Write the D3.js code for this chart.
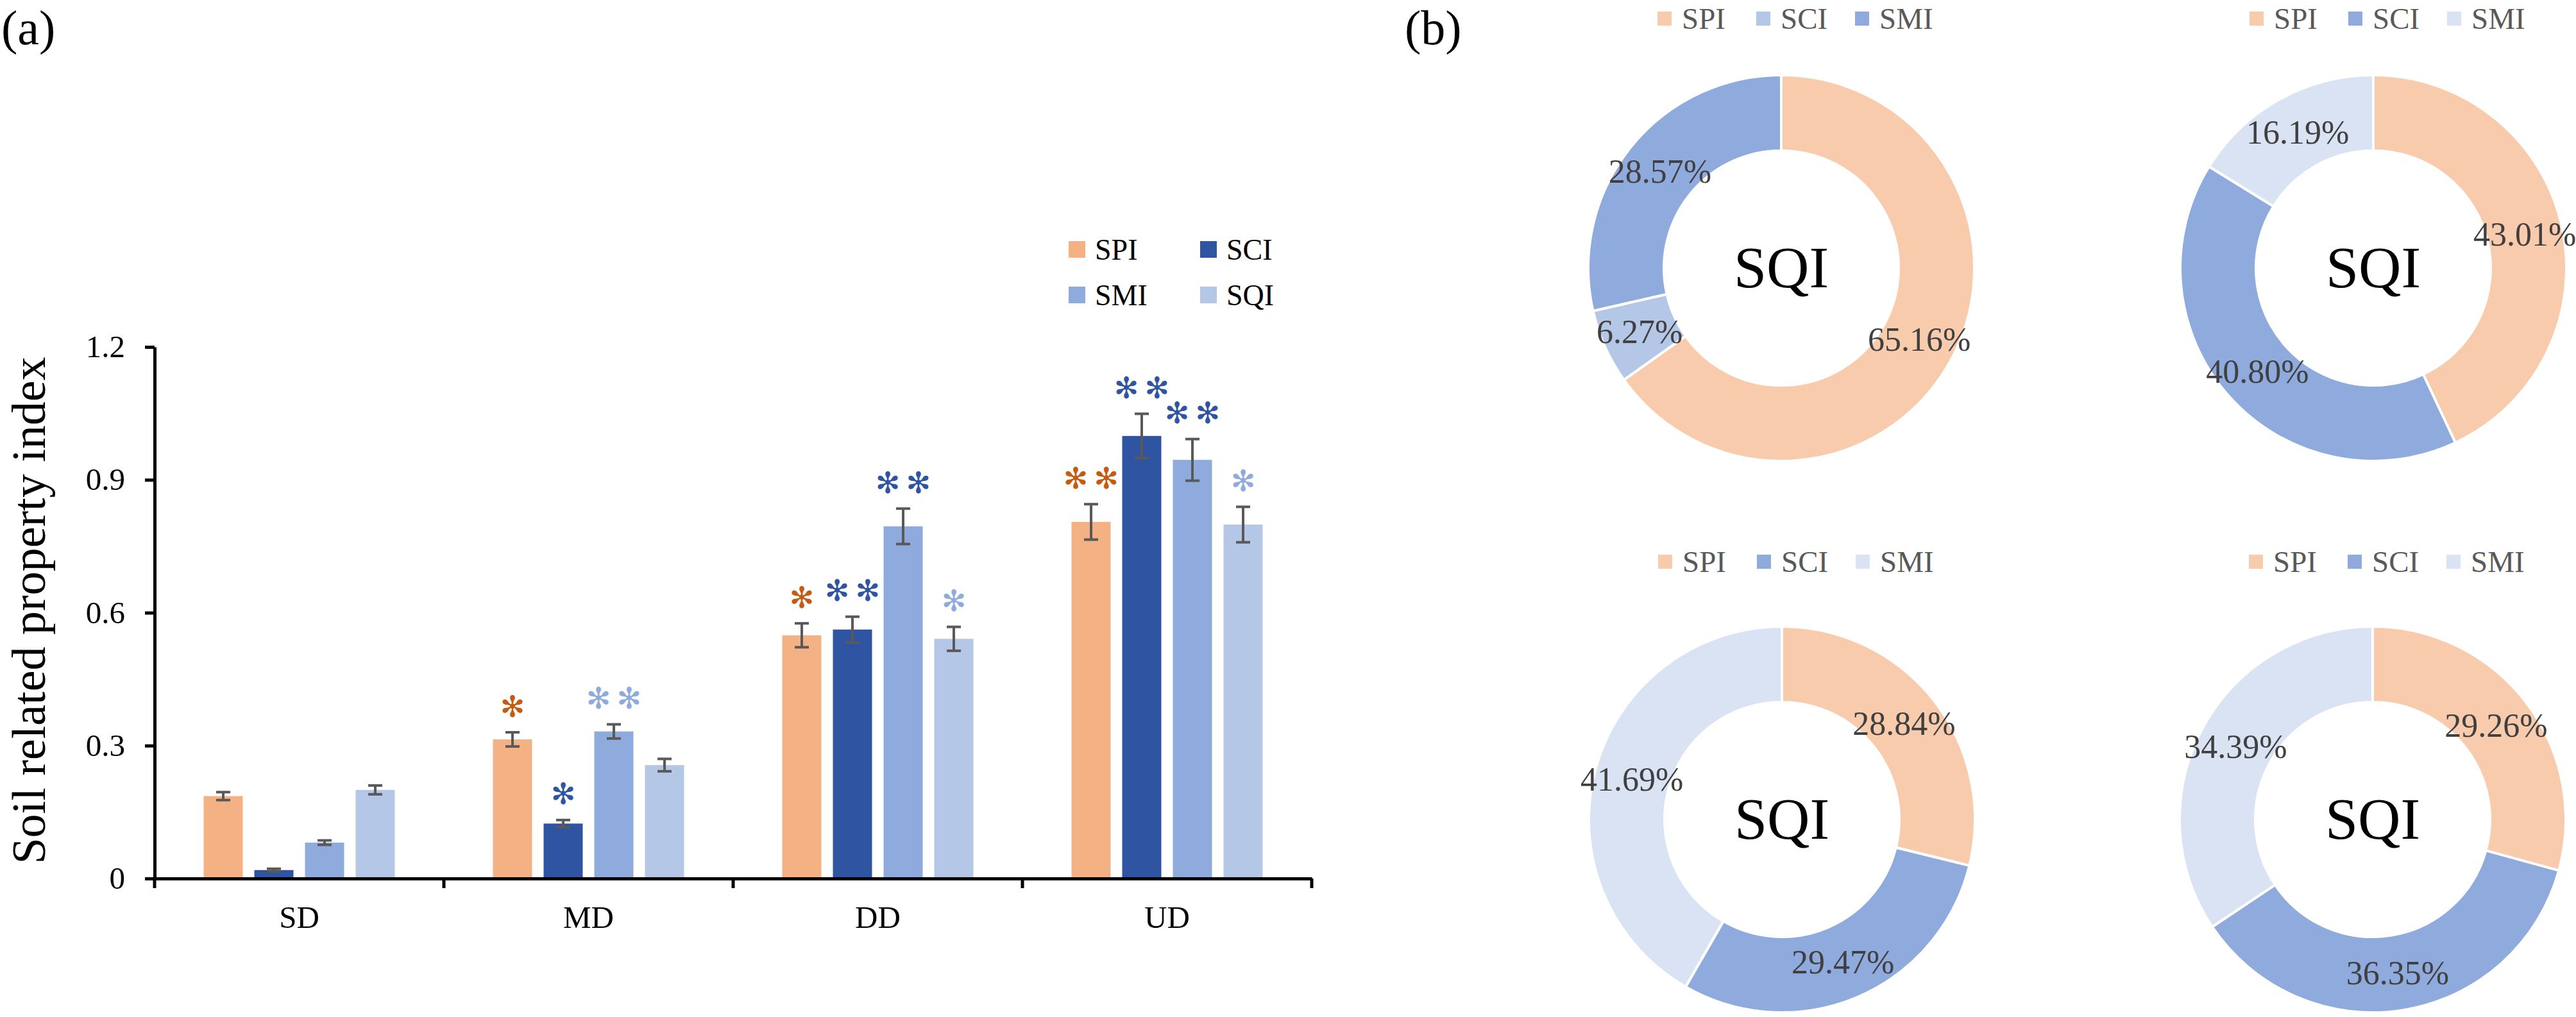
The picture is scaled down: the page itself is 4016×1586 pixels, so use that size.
<!DOCTYPE html>
<html>
<head>
<meta charset="utf-8">
<script src="https://cdn.jsdelivr.net/npm/d3@7"></script>
<style>
  body { margin: 0; background: #ffffff; }
  svg { display: block; }
  text { font-family: 'Times New Roman', 'Liberation Serif', serif; }
</style>
</head>
<body>
<svg></svg>
<script>
// bar chart data (a)
let categories = ['SD', 'MD', 'DD', 'UD']
let series = ['SPI', 'SCI', 'SMI', 'SQI']
let spiValues = [0.186, 0.314, 0.549, 0.805]
let sciValues = [0.019, 0.124, 0.562, 0.999]
let smiValues = [0.081, 0.332, 0.795, 0.945]
let sqiValues = [0.200, 0.256, 0.541, 0.799]
let spiErrors = [0.009, 0.016, 0.027, 0.040]
let sciErrors = [0.003, 0.008, 0.029, 0.050]
let smiErrors = [0.005, 0.016, 0.040, 0.047]
let sqiErrors = [0.010, 0.014, 0.027, 0.040]
let spiStars = ['', '*', '*', '**']
let sciStars = ['', '*', '**', '**']
let smiStars = ['', '**', '**', '**']
let sqiStars = ['', '', '*', '*']
// o = orange, d = dark blue, l = light blue
let spiStarTone = ['o', 'o', 'o', 'o']
let sciStarTone = ['d', 'd', 'd', 'd']
let smiStarTone = ['l', 'l', 'd', 'd']
let sqiStarTone = ['l', 'l', 'l', 'l']
let yTicks = [0, 0.3, 0.6, 0.9, 1.2]

// donut data (b), percent of SQI
let pieParts = ['SPI', 'SCI', 'SMI']
let pie1 = [65.16, 6.27, 28.57]
let pie2 = [43.01, 40.80, 16.19]
let pie3 = [28.84, 29.47, 41.69]
let pie4 = [29.26, 36.35, 34.39]

let width = 4016
let height = 1586

let barColors = { SPI: '#F4B183', SCI: '#2F55A2', SMI: '#8FAADC', SQI: '#B4C7E7' }
let starColors = { o: '#C55A11', d: '#2F55A2', l: '#8FAADC' }
let serif = "'Times New Roman', 'Liberation Serif', serif"

let svg = d3.select('svg')
let xScale, xInner, yScale

let drawCanvas = () => {
    svg.attr('width', width)
       .attr('height', height)
    svg.append('rect')
       .attr('width', width)
       .attr('height', height)
       .attr('fill', '#ffffff')
}

let genScales = () => {
    xScale = d3.scaleBand()
               .domain(categories)
               .range([241, 2045])

    xInner = d3.scaleBand()
               .domain(series)
               .range([0, xScale.bandwidth()])
               .paddingInner(0.228)
               .paddingOuter(0.968)

    yScale = d3.scaleLinear()
               .domain([0, 1.2])
               .range([1370, 541])
}

let barRows = () => {
    let vals = { SPI: spiValues, SCI: sciValues, SMI: smiValues, SQI: sqiValues }
    let errs = { SPI: spiErrors, SCI: sciErrors, SMI: smiErrors, SQI: sqiErrors }
    let stars = { SPI: spiStars, SCI: sciStars, SMI: smiStars, SQI: sqiStars }
    let tones = { SPI: spiStarTone, SCI: sciStarTone, SMI: smiStarTone, SQI: sqiStarTone }
    let rows = []
    categories.forEach((c, i) => {
        series.forEach((s) => {
            rows.push({ cat: c, key: s, value: vals[s][i], err: errs[s][i], star: stars[s][i], tone: tones[s][i] })
        })
    })
    return rows
}

let drawBars = () => {
    let rows = barRows()
    let g = svg.append('g').attr('id', 'bars')

    g.selectAll('rect')
        .data(rows)
        .enter()
        .append('rect')
        .attr('x', (d) => xScale(d.cat) + xInner(d.key))
        .attr('y', (d) => yScale(d.value))
        .attr('width', xInner.bandwidth())
        .attr('height', (d) => yScale(0) - yScale(d.value))
        .attr('fill', (d) => barColors[d.key])

    let cx = (d) => xScale(d.cat) + xInner(d.key) + xInner.bandwidth() / 2

    let eg = g.selectAll('g.err')
        .data(rows)
        .enter()
        .append('g')
        .attr('class', 'err')
        .attr('stroke', '#595959')
        .attr('stroke-width', 4)

    eg.append('line')
        .attr('x1', cx).attr('x2', cx)
        .attr('y1', (d) => yScale(d.value + d.err))
        .attr('y2', (d) => yScale(d.value - d.err))
    eg.append('line')
        .attr('x1', (d) => cx(d) - 11).attr('x2', (d) => cx(d) + 11)
        .attr('y1', (d) => yScale(d.value + d.err))
        .attr('y2', (d) => yScale(d.value + d.err))
    eg.append('line')
        .attr('x1', (d) => cx(d) - 11).attr('x2', (d) => cx(d) + 11)
        .attr('y1', (d) => yScale(d.value - d.err))
        .attr('y2', (d) => yScale(d.value - d.err))

    // significance asterisks
    g.selectAll('text.star')
        .data(rows.filter((d) => d.star !== ''))
        .enter()
        .append('text')
        .attr('class', 'star')
        .attr('x', cx)
        .attr('y', (d) => yScale(d.value + d.err) - 41)
        .attr('text-anchor', 'middle')
        .attr('dy', '0.36em')
        .style('font-family', "'DejaVu Sans', sans-serif")
        .style('font-size', '46px')
        .attr('fill', (d) => starColors[d.tone])
        .text((d) => d.star.replace(/\*/g, '\u273B').split('').join('\u2009'))
}

let genAxes = () => {
    let yAxis = d3.axisLeft(yScale)
                  .tickValues(yTicks)
                  .tickSize(15)
                  .tickSizeOuter(0)
                  .tickPadding(31)
                  .tickFormat((d) => d === 0 ? '0' : d.toFixed(1))

    let xAxis = d3.axisBottom(xScale)
                  .tickSize(0)
                  .tickSizeOuter(0)
                  .tickPadding(42)

    let ya = svg.append('g')
        .attr('id', 'y-axis')
        .attr('transform', 'translate(241, 0)')
        .call(yAxis)

    let xa = svg.append('g')
        .attr('id', 'x-axis')
        .attr('transform', 'translate(0, 1370)')
        .call(xAxis)

    ;[ya, xa].forEach((a) => {
        a.selectAll('path.domain').attr('stroke', '#000').attr('stroke-width', 5)
        a.selectAll('.tick line').attr('stroke', '#000').attr('stroke-width', 5)
        a.selectAll('text')
            .style('font-family', serif)
            .style('font-size', '49px')
            .attr('fill', '#000')
    })

    // category boundary ticks
    let bounds = categories.map((c) => xScale(c)).concat([xScale.range()[1]])
    xa.selectAll('line.bound')
        .data(bounds)
        .enter()
        .append('line')
        .attr('class', 'bound')
        .attr('x1', (d) => d).attr('x2', (d) => d)
        .attr('y1', 0).attr('y2', 15)
        .attr('stroke', '#000')
        .attr('stroke-width', 5)

    svg.append('text')
        .attr('transform', 'translate(70, 952) rotate(-90)')
        .attr('text-anchor', 'middle')
        .style('font-size', '74px')
        .text('Soil related property index')
}

let genBarLegend = () => {
    let lg = svg.append('g').attr('id', 'bar-legend')
    let items = lg.selectAll('g')
        .data(series)
        .enter()
        .append('g')
        .attr('transform', (d, i) => 'translate(' + (1666 + (i % 2) * 205) + ',' + (376 + Math.floor(i / 2) * 71) + ')')
    items.append('rect')
        .attr('width', 26).attr('height', 26)
        .attr('fill', (d) => barColors[d])
    items.append('text')
        .attr('x', 41).attr('y', 13)
        .attr('dy', '0.34em')
        .style('font-size', '46px')
        .text((d) => d)
}

let drawDonut = (values, cx, cy, legendY, palette) => {
    let g = svg.append('g').attr('transform', 'translate(' + cx + ',' + cy + ')')
    let pie = d3.pie().sort(null).value((d) => d.value)
    let arc = d3.arc().innerRadius(183).outerRadius(301)
    let parts = pie(pieParts.map((p, i) => ({ key: p, value: values[i] })))

    g.selectAll('path')
        .data(parts)
        .enter()
        .append('path')
        .attr('d', arc)
        .attr('fill', (d) => palette[d.data.key])
        .attr('stroke', '#ffffff')
        .attr('stroke-width', 4)

    g.selectAll('text.pct')
        .data(parts)
        .enter()
        .append('text')
        .attr('class', 'pct')
        .attr('x', (d) => arc.centroid(d)[0])
        .attr('y', (d) => arc.centroid(d)[1])
        .attr('dy', '0.34em')
        .attr('text-anchor', 'middle')
        .attr('fill', '#404040')
        .style('font-size', '52px')
        .text((d) => d.data.value.toFixed(2) + '%')

    g.append('text')
        .attr('text-anchor', 'middle')
        .attr('dy', '0.33em')
        .style('font-size', '92px')
        .attr('fill', '#000')
        .text('SQI')

    let lg = svg.append('g').attr('transform', 'translate(' + cx + ',' + legendY + ')')
    let items = lg.selectAll('g')
        .data(pieParts)
        .enter()
        .append('g')
        .attr('transform', (d, i) => 'translate(' + (-193 + i * 154) + ',0)')
    items.append('rect')
        .attr('y', -11)
        .attr('width', 22).attr('height', 22)
        .attr('fill', (d) => palette[d])
    items.append('text')
        .attr('x', 38)
        .attr('dy', '0.33em')
        .attr('fill', '#595959')
        .style('font-size', '47px')
        .text((d) => d)
}

let genDonuts = () => {
    let paletteA = { SPI: '#F8CBAD', SCI: '#B4C7E7', SMI: '#8FAADC' }
    let paletteB = { SPI: '#F8CBAD', SCI: '#8FAADC', SMI: '#DAE3F3' }
    drawDonut(pie1, 2777, 418, 29, paletteA)
    drawDonut(pie2, 3700, 418, 29, paletteB)
    drawDonut(pie3, 2778, 1278, 876, paletteB)
    drawDonut(pie4, 3699, 1278, 876, paletteB)
}

let genTitles = () => {
    svg.append('text')
        .attr('x', 2).attr('y', 69)
        .style('font-size', '76px')
        .text('(a)')
    svg.append('text')
        .attr('x', 2190).attr('y', 69)
        .style('font-size', '76px')
        .text('(b)')
}

drawCanvas()
genScales()
drawBars()
genAxes()
genBarLegend()
genDonuts()
genTitles()
</script>
</body>
</html>
